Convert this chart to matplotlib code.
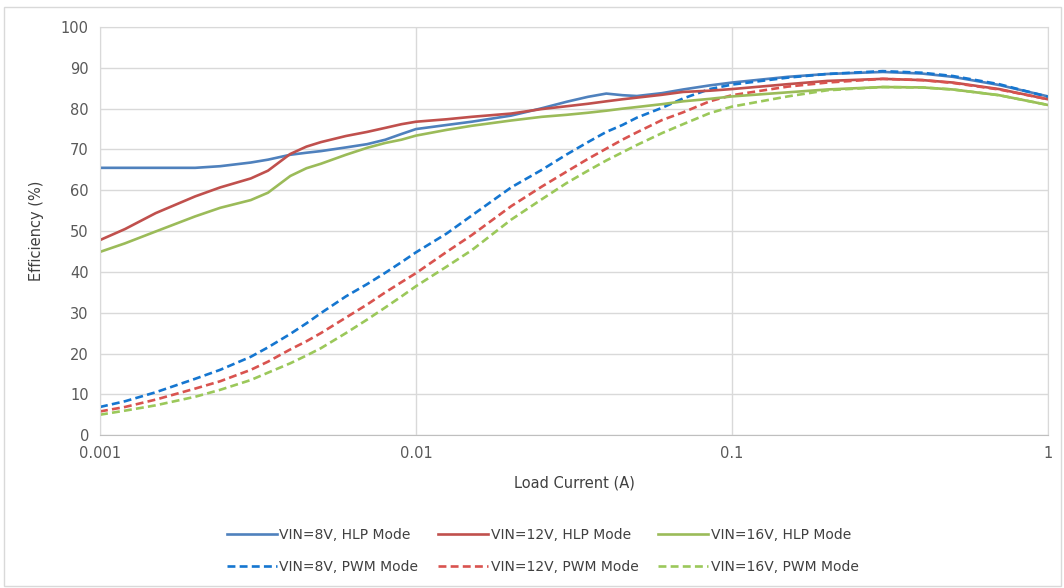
import matplotlib.pyplot as plt
from matplotlib.patches import Rectangle
from matplotlib.ticker import FixedLocator, FixedFormatter, NullLocator

# Load current (A)
current = [0.001, 0.0012, 0.0015, 0.002, 0.0024, 0.003, 0.0034, 0.004, 0.0045, 0.005,
           0.006, 0.007, 0.008, 0.009, 0.01, 0.0125, 0.015, 0.02, 0.025, 0.03,
           0.035, 0.04, 0.045, 0.05, 0.06, 0.07, 0.085, 0.1, 0.15, 0.2,
           0.3, 0.4, 0.5, 0.7, 1.0]

# Efficiency (%) per series
hlp_8v = [65.5, 65.5, 65.5, 65.5, 65.9, 66.8, 67.5, 68.7, 69.2, 69.6,
          70.5, 71.3, 72.4, 73.8, 75.0, 76.0, 76.8, 78.3, 80.1, 81.7,
          82.9, 83.7, 83.3, 83.1, 83.8, 84.7, 85.7, 86.4, 87.8, 88.5,
          89.0, 88.6, 87.8, 85.8, 83.0]
hlp_12v = [47.8, 50.5, 54.4, 58.5, 60.7, 62.9, 64.8, 68.9, 70.7, 71.8,
           73.3, 74.3, 75.3, 76.2, 76.8, 77.4, 78.0, 78.8, 79.9, 80.6,
           81.2, 81.8, 82.3, 82.7, 83.4, 84.1, 84.4, 84.8, 86.0, 86.8,
           87.3, 87.0, 86.4, 84.8, 82.3]
hlp_16v = [44.9, 47.0, 49.9, 53.6, 55.7, 57.6, 59.4, 63.5, 65.4, 66.5,
           68.7, 70.4, 71.6, 72.4, 73.4, 74.8, 75.8, 77.1, 78.0, 78.5,
           79.0, 79.5, 80.0, 80.4, 81.1, 81.8, 82.4, 83.0, 84.0, 84.7,
           85.3, 85.2, 84.7, 83.3, 80.9]
pwm_8v = [6.9, 8.3, 10.5, 13.8, 16.0, 19.2, 21.5, 24.8, 27.4, 29.9,
          34.0, 37.0, 39.8, 42.4, 44.8, 49.4, 53.8, 60.7, 65.0, 68.8,
          71.8, 74.3, 76.0, 77.8, 80.2, 82.5, 84.8, 85.9, 87.6, 88.5,
          89.2, 88.8, 88.0, 86.0, 82.9]
pwm_12v = [5.8, 6.9, 8.7, 11.4, 13.2, 16.0, 18.0, 21.0, 23.0, 25.0,
           28.8, 32.0, 35.0, 37.5, 39.7, 44.9, 49.0, 56.1, 60.9, 64.6,
           67.7, 70.2, 72.4, 74.2, 77.2, 79.1, 81.8, 83.3, 85.4, 86.4,
           87.3, 87.0, 86.3, 84.7, 82.3]
pwm_16v = [5.0, 6.0, 7.3, 9.4, 11.1, 13.5, 15.3, 17.6, 19.5, 21.3,
           25.0, 28.3, 31.3, 34.0, 36.5, 41.3, 45.3, 52.8, 57.8, 61.8,
           64.8, 67.3, 69.3, 71.1, 74.0, 76.2, 78.9, 80.5, 83.0, 84.5,
           85.3, 85.2, 84.7, 83.3, 80.9]

x_ticks = [0.001, 0.01, 0.1, 1]
x_tick_labels = ['0.001', '0.01', '0.1', '1']
y_ticks = list(range(0, 101, 10))

fig = plt.figure(figsize=(10.64, 5.88), dpi=100)
ax = fig.add_axes([0.094, 0.26, 0.891, 0.694])

# frame around the whole chart
fig.patches.append(Rectangle((0.004, 0.004), 0.993, 0.984, transform=fig.transFigure,
                             fill=False, edgecolor='#d9d9d9', linewidth=1))

lw = 1.9
dash = (3, 1.6)
ax.plot(current, hlp_8v, color='#4f81bd', lw=lw, label='VIN=8V, HLP Mode')
ax.plot(current, pwm_8v, color='#1576d0', lw=lw, dashes=dash, label='VIN=8V, PWM Mode')
ax.plot(current, hlp_12v, color='#c0504d', lw=lw, label='VIN=12V, HLP Mode')
ax.plot(current, pwm_12v, color='#d9534f', lw=lw, dashes=dash, label='VIN=12V, PWM Mode')
ax.plot(current, hlp_16v, color='#9bbb59', lw=lw, label='VIN=16V, HLP Mode')
ax.plot(current, pwm_16v, color='#9bc85a', lw=lw, dashes=dash, label='VIN=16V, PWM Mode')

ax.set_xscale('log')
ax.set_xlim(0.001, 1)
ax.set_ylim(0, 100)
ax.xaxis.set_major_locator(FixedLocator(x_ticks))
ax.xaxis.set_major_formatter(FixedFormatter(x_tick_labels))
ax.xaxis.set_minor_locator(NullLocator())
ax.set_yticks(y_ticks)

ax.grid(True, color='#d9d9d9', linewidth=1)
ax.set_axisbelow(True)
for side in ['top', 'right', 'left']:
    ax.spines[side].set_color('#d9d9d9')
ax.spines['bottom'].set_color('#bfbfbf')
ax.tick_params(length=0, labelsize=10.5, labelcolor='#595959', pad=8)

ax.set_xlabel('Load Current (A)', fontsize=10.5, color='#404040', labelpad=10)
ax.set_ylabel('Efficiency (%)', fontsize=10.5, color='#404040', labelpad=12)

fig.legend(loc='center', bbox_to_anchor=(0.51, 0.063), ncol=3, frameon=False,
           fontsize=10, labelcolor='#404040', handlelength=3.6, handletextpad=0.2,
           columnspacing=1.4, labelspacing=1.25)

fig.savefig('out.png', dpi=100)
